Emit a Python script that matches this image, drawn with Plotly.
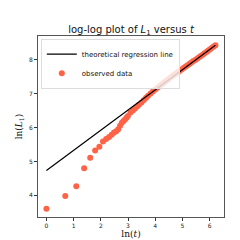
import numpy as np
import plotly.graph_objects as go

t_obs = [1, 2, 3, 4, 5, 6, 7, 8, 9, 10, 11, 12, 13, 14, 15, 16, 17, 18, 19, 20,
         22, 24, 26, 28, 30, 33, 36, 39, 42, 46, 50, 55, 60, 65, 70, 76, 82, 88,
         95, 102, 110, 118, 127, 136, 146, 157, 168, 180, 193, 207, 222, 238,
         255, 273, 292, 313, 335, 359, 384, 411, 440, 470, 500]
lnL_obs = [3.60, 3.98, 4.27, 4.80, 5.11, 5.32, 5.43, 5.59, 5.66, 5.72, 5.79, 5.85,
           5.89, 5.95, 6.05, 6.14, 6.19, 6.24, 6.29, 6.34,
           6.44, 6.50, 6.56, 6.62, 6.67, 6.74, 6.81, 6.88, 6.94, 7.00, 7.06, 7.12,
           7.18, 7.23, 7.28, 7.33, 7.38, 7.42, 7.47, 7.51, 7.56, 7.60, 7.64, 7.68,
           7.72, 7.76, 7.80, 7.84, 7.88, 7.92, 7.96, 7.99, 8.03, 8.07, 8.11, 8.15,
           8.19, 8.23, 8.27, 8.31, 8.35, 8.39, 8.43]

# theoretical regression line endpoints
line_lnt = [0.0, 6.215]
line_lnL = [4.73, 8.43]

x_ticks = [0, 1, 2, 3, 4, 5, 6]
y_ticks = [4, 5, 6, 7, 8]

fig = go.Figure()
fig.add_trace(go.Scatter(
    x=np.log(t_obs), y=lnL_obs, mode="markers", name="observed data",
    marker=dict(color="#FF6347", size=6, line=dict(width=0)),
))
fig.add_trace(go.Scatter(
    x=line_lnt, y=line_lnL, mode="lines", name="theoretical regression line",
    line=dict(color="black", width=1.2),
))

axis_common = dict(
    showgrid=False, zeroline=False, showline=True, mirror=True, automargin=False,
    linecolor="#555555", linewidth=1, ticks="outside", ticklen=3,
    tickcolor="#333333", tickfont=dict(size=6, color="#222222", family="DejaVu Sans"),
)
fig.update_layout(
    width=240, height=240,
    margin=dict(l=30, r=24, t=28, b=31, autoexpand=False),
    paper_bgcolor="white", plot_bgcolor="white",
    title=dict(text="log-log plot of <i>L</i><sub>1</sub> versus <i>t</i>",
               x=0.5, xanchor="center", xref="paper", y=0.91, yanchor="middle",
               font=dict(size=10, family="DejaVu Sans", color="#111111")),
    xaxis=dict(range=[-0.31, 6.53], tickvals=x_ticks,
               title=dict(text="ln(<i>t</i>)", standoff=0,
                          font=dict(size=9, family="DejaVu Serif", color="#111111")),
               **axis_common),
    yaxis=dict(range=[3.36, 8.70], tickvals=y_ticks,
               title=dict(text="ln(<i>L</i><sub>1</sub>)", standoff=4,
                          font=dict(size=9, family="DejaVu Serif", color="#111111")),
               **axis_common),
    legend=dict(x=0.015, y=0.985, xanchor="left", yanchor="top",
                bgcolor="rgba(255,255,255,0.8)", bordercolor="#dddddd", borderwidth=1,
                font=dict(size=7, family="DejaVu Sans", color="#111111"),
                traceorder="reversed", itemwidth=30, tracegroupgap=0),
    showlegend=True,
)

fig.write_html("out.html")
